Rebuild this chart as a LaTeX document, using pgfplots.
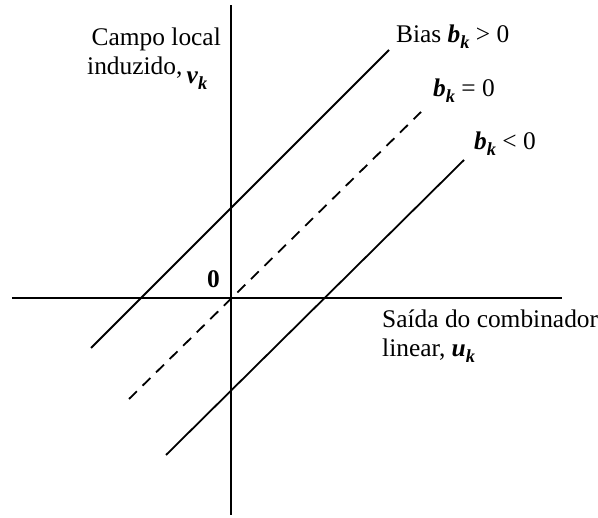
\documentclass[border=0pt]{standalone}
\usepackage{pgfplots}
\pgfplotsset{compat=1.18}
\usepackage{fontspec}
\setmainfont{Liberation Serif}
\newcommand\sub[1]{\raisebox{-0.45ex}{\fontsize{18.5}{18.5}\selectfont\textit{\textbf{#1}}}}
\newcommand\var[2]{\textit{\textbf{#1}}\sub{#2}}
\tikzset{lbl/.style={inner sep=0pt, font=\fontsize{25.5}{29}\selectfont}}
\begin{document}
\begin{tikzpicture}
\begin{axis}[
  x=1bp, y=1bp,
  xmin=-219, xmax=331, ymin=-217, ymax=293,
  axis lines=middle,
  axis line style={-, line width=1.8pt},
  xtick=\empty, ytick=\empty,
  enlargelimits=false,
  clip=false,
]
\coordinate (bl) at (axis cs:-231,-220);
\coordinate (tr) at (axis cs:367,298);
\addplot[black, line width=1.8pt] coordinates {(-140,-50) (158,248)};
\addplot[black, line width=1.8pt, dash pattern=on 11bp off 8bp] coordinates {(-102,-101) (190,186)};
\addplot[black, line width=1.8pt] coordinates {(-65,-157) (233,138)};
\node[lbl, anchor=base east] at (axis cs:-10,252) {Campo local};
\node[lbl, anchor=base west] at (axis cs:-144,223) {induzido,\,\raisebox{-9bp}{\var{v}{k}}};
\node[lbl, anchor=base west] at (axis cs:165,255) {Bias \var{b}{k} > 0};
\node[lbl, anchor=base west] at (axis cs:202,201) {\var{b}{k} = 0};
\node[lbl, anchor=base west] at (axis cs:243,148) {\var{b}{k} < 0};
\node[lbl, anchor=base east] at (axis cs:-11,10) {\textbf{0}};
\node[lbl, anchor=base west] at (axis cs:151,-30) {Saída do combinador};
\node[lbl, anchor=base west] at (axis cs:151,-59) {linear, \var{u}{k}};
\end{axis}
\pgfresetboundingbox
\path (bl) rectangle (tr);
\end{tikzpicture}
\end{document}
